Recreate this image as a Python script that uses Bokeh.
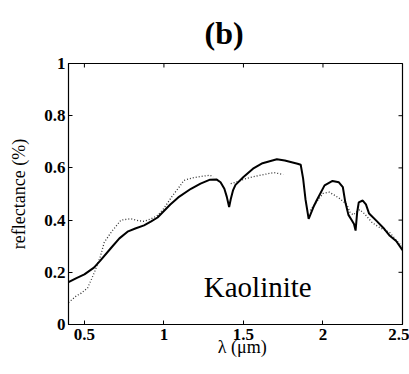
from bokeh.plotting import figure
from bokeh.models import Range1d, FixedTicker, Title
from bokeh.core.properties import value
from bokeh.embed import file_html
from bokeh.resources import INLINE
import numpy as np

# measured spectrum (solid)
wl_meas = [0.40, 0.45, 0.50, 0.56, 0.60, 0.67, 0.72, 0.775, 0.82, 0.875, 0.92, 0.96, 1.00, 1.04,
           1.09, 1.17, 1.23, 1.29, 1.33, 1.356, 1.38, 1.395, 1.41, 1.42, 1.435, 1.45, 1.50, 1.56,
           1.62, 1.71, 1.76, 1.84, 1.86, 1.875, 1.89, 1.91, 1.94, 1.96, 2.01, 2.06, 2.10, 2.125,
           2.14, 2.16, 2.18, 2.195, 2.205, 2.215, 2.225, 2.25, 2.27, 2.29, 2.34, 2.38, 2.42, 2.46, 2.50]
refl_meas = [0.162, 0.178, 0.192, 0.218, 0.245, 0.295, 0.33, 0.357, 0.368, 0.38, 0.395, 0.41, 0.435, 0.46,
             0.487, 0.52, 0.54, 0.555, 0.556, 0.545, 0.52, 0.49, 0.45, 0.48, 0.515, 0.535, 0.565, 0.597,
             0.618, 0.633, 0.628, 0.616, 0.612, 0.56, 0.48, 0.405, 0.45, 0.475, 0.533, 0.55, 0.545, 0.526,
             0.47, 0.42, 0.40, 0.385, 0.36, 0.43, 0.468, 0.475, 0.46, 0.425, 0.395, 0.37, 0.34, 0.32, 0.285]

# library spectrum (dotted), gaps at water bands
wl_lib = [0.40, 0.45, 0.48, 0.52, 0.56, 0.60, 0.625, 0.67, 0.73, 0.79, 0.84, 0.875, 0.92, 0.96,
          1.00, 1.05, 1.10, 1.125, 1.18, 1.23, 1.29, 1.31, np.nan,
          1.42, 1.45, 1.52, 1.59, 1.69, 1.75, np.nan,
          1.92, 1.96, 2.00, 2.04, 2.10, 2.15, 2.17, 2.19, 2.21, 2.23, 2.26, 2.31, 2.36, 2.42, 2.48, 2.50]
refl_lib = [0.084, 0.11, 0.12, 0.14, 0.195, 0.26, 0.315, 0.355, 0.40, 0.405, 0.398, 0.395, 0.405, 0.418,
            0.445, 0.49, 0.53, 0.552, 0.562, 0.567, 0.572, 0.565, np.nan,
            0.54, 0.545, 0.56, 0.57, 0.582, 0.575, np.nan,
            0.437, 0.47, 0.502, 0.507, 0.485, 0.46, 0.43, 0.42, 0.43, 0.44, 0.425, 0.39, 0.37, 0.352, 0.31, 0.30]

x_ticks = [0.5, 1, 1.5, 2, 2.5]
y_ticks = [0, 0.2, 0.4, 0.6, 0.8, 1]
x_min, x_max = 0.4, 2.5
y_min, y_max = 0.0, 1.0

annot_text = ["Kaolinite"]
annot_x = [1.59]
annot_y = [0.142]

SERIF = "'Liberation Serif', 'Times New Roman', serif"

p = figure(width=409, height=374, output_backend="svg", toolbar_location=None,
           x_range=Range1d(x_min, x_max), y_range=Range1d(y_min, y_max),
           min_border_left=68, min_border_right=7, min_border_top=63, min_border_bottom=50,
           frame_width=334, frame_height=261)
p.grid.visible = False
p.outline_line_color = "black"
p.outline_line_width = 1.2
p.background_fill_color = "white"
p.border_fill_color = "white"

t = Title(text="(b)", align="left", text_font=SERIF, text_font_size="32px",
          text_font_style="bold", text_color="black", offset=136, standoff=25)
p.add_layout(t, "above")

for ax in [p.xaxis[0], p.yaxis[0]]:
    ax.major_tick_in = 4
    ax.major_tick_out = 0
    ax.minor_tick_in = 0
    ax.minor_tick_out = 0
    ax.axis_line_color = "black"
    ax.major_label_text_font = SERIF
    ax.major_label_text_font_size = "17px"
    ax.major_label_text_font_style = "bold"
    ax.major_label_text_color = "black"
    ax.axis_label_text_font = SERIF
    ax.axis_label_text_font_size = "18px"
    ax.axis_label_text_font_style = "normal"
    ax.axis_label_text_color = "black"

p.xaxis.ticker = FixedTicker(ticks=x_ticks)
p.yaxis.ticker = FixedTicker(ticks=y_ticks)
p.xaxis.major_label_overrides = {0.5: "0.5", 1: "1", 1.5: "1.5", 2: "2", 2.5: "2.5"}
p.yaxis.major_label_overrides = {0: "0", 0.2: "0.2", 0.4: "0.4", 0.6: "0.6", 0.8: "0.8", 1: "1"}
p.xaxis.axis_label = "\u00a0\u00a0\u00a0λ (μm)"
p.yaxis.axis_label = "reflectance (%)"
p.xaxis.major_label_standoff = 4
p.yaxis.major_label_standoff = 3
p.xaxis.axis_label_standoff = -6
p.yaxis.axis_label_standoff = 12

# mirrored inside ticks on top and right edges
tick_len_y = 4 / 261 * (y_max - y_min)
tick_len_x = 4 / 334 * (x_max - x_min)
p.segment(x0=x_ticks, y0=[y_max] * len(x_ticks), x1=x_ticks, y1=[y_max - tick_len_y] * len(x_ticks),
          line_color="black", line_width=1)
p.segment(x0=[x_max] * len(y_ticks), y0=y_ticks, x1=[x_max - tick_len_x] * len(y_ticks), y1=y_ticks,
          line_color="black", line_width=1)

p.line(wl_lib, refl_lib, line_color="#333333", line_width=1.3, line_dash="1 2")
p.line(wl_meas, refl_meas, line_color="black", line_width=2)

p.text(x=annot_x, y=annot_y, text=annot_text, text_font=value(SERIF), text_font_size="29px",
       text_align="center", text_baseline="alphabetic", text_color="black")

open("out.html", "w").write(file_html(p, INLINE))
